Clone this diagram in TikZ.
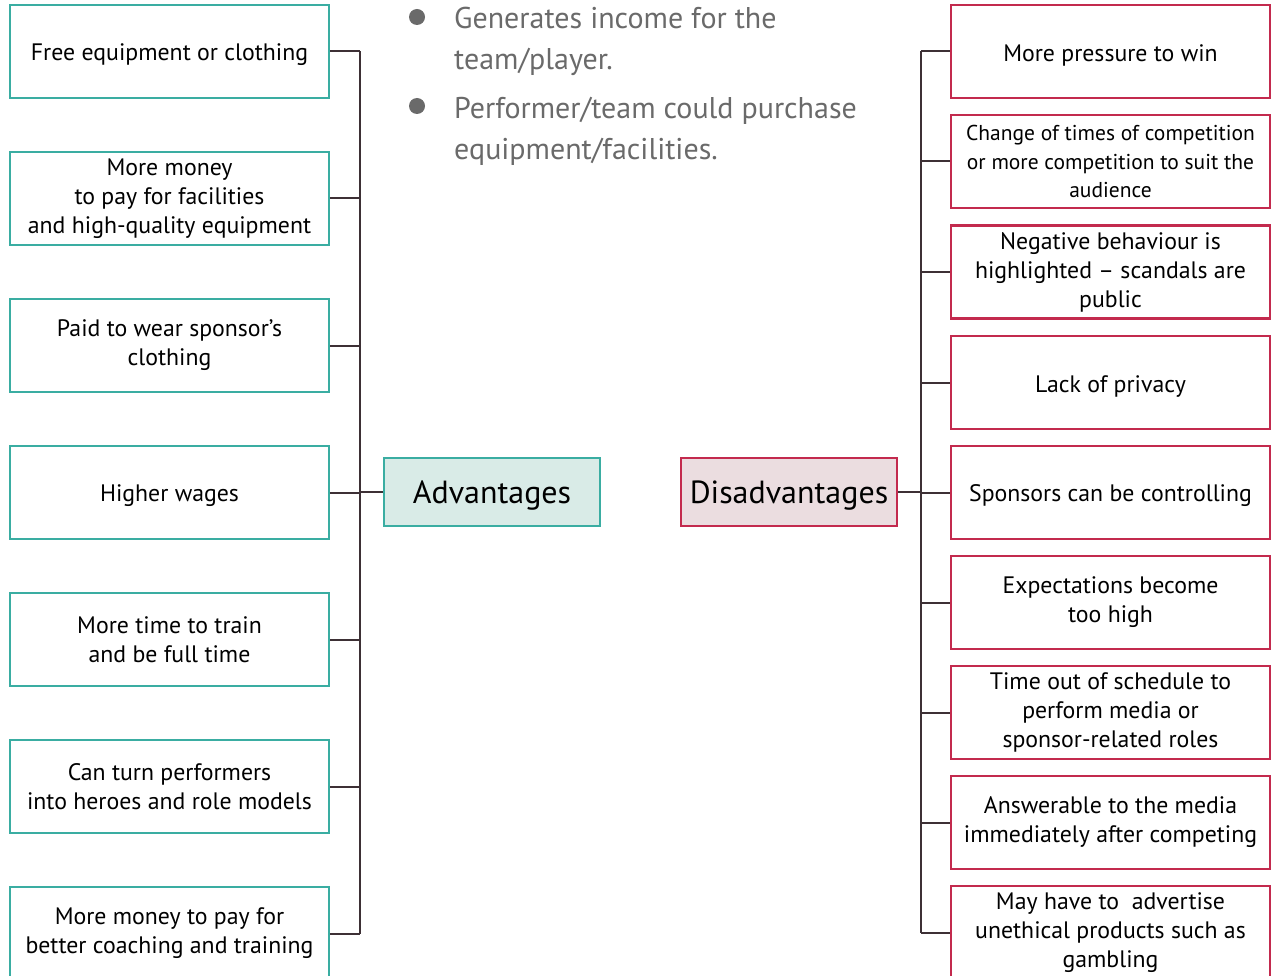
\documentclass[tikz,border=0pt]{standalone}
\usepackage{fontspec}
\setmainfont{PT Sans}
\usetikzlibrary{positioning, calc}

\definecolor{advline}{HTML}{3AADA2}
\definecolor{advfill}{HTML}{D9EBE7}
\definecolor{disline}{HTML}{C32A4E}
\definecolor{disfill}{HTML}{EBDDE0}
\definecolor{linkcol}{HTML}{3D3035}
\definecolor{notecol}{HTML}{6A6A6A}

\begin{document}
\begin{tikzpicture}[
    x = 1pt,
    y = -1pt,
    line join = miter,
    % strut at the start pushes the text a little down in its box
    advbox/.style = {draw=advline, line width=2.4pt, fill=white, minimum width=319pt,
        minimum height=93pt, align=center, inner sep=2pt,
        font=\fontsize{23.8}{29}\selectfont,
        execute at begin node={\rule{0pt}{24pt}}},
    disbox/.style = {draw=disline, line width=2.4pt, fill=white, minimum width=319pt,
        minimum height=93pt, align=center, inner sep=2pt,
        font=\fontsize{23.8}{29}\selectfont,
        execute at begin node={\rule{0pt}{24pt}}},
    rootbox/.style = {line width=2.4pt, minimum width=216pt, minimum height=68pt,
        font=\fontsize{32}{36}\selectfont,
        execute at begin node={\rule{0pt}{29pt}}},
    link/.style = {draw=linkcol, line width=2pt},
    note/.style = {text=notecol, align=left, anchor=west, inner sep=0pt,
        font=\fontsize{30}{41}\selectfont},
    dot/.style = {circle, fill=notecol, minimum size=16pt, inner sep=0pt}
]
\useasboundingbox (0,0) rectangle (1271,976);

% 1. Centre boxes
\node[rootbox, draw=advline, fill=advfill] (advroot) at (492,492) {Advantages};
\node[rootbox, draw=disline, fill=disfill] (disroot) at (789,492) {Disadvantages};

% 2. Advantages on the left
\node[advbox] (adv1) at (169.5,51.5) {Free equipment or clothing};
\node[advbox] (adv2) at (169.5,198.5) {More money\\to pay for facilities\\and high-quality equipment};
\node[advbox] (adv3) at (169.5,345.5) {Paid to wear sponsor’s\\clothing};
\node[advbox] (adv4) at (169.5,492.5) {Higher wages};
\node[advbox] (adv5) at (169.5,639.5) {More time to train\\and be full time};
\node[advbox] (adv6) at (169.5,786.5) {Can turn performers\\into heroes and role models};
\node[advbox] (adv7) at (169.5,933.5) {More money to pay for\\better coaching and training};

% 3. Disadvantages on the right
\node[disbox, font=\fontsize{21.5}{28.5}\selectfont] (dis2) at (1110.5,161.5) {Change of times of competition\\or more competition to suit the\\audience};
\node[disbox] (dis1) at (1110.5,51.5) {More pressure to win};
\node[disbox] (dis3) at (1110.5,272) {Negative behaviour is\\highlighted -- scandals are\\public};
\node[disbox] (dis4) at (1110.5,382.5) {Lack of privacy};
\node[disbox] (dis5) at (1110.5,492.5) {Sponsors can be controlling};
\node[disbox] (dis6) at (1110.5,602.5) {Expectations become\\too high};
\node[disbox] (dis7) at (1110.5,712.5) {Time out of schedule to\\perform media or\\sponsor-related roles};
\node[disbox] (dis8) at (1110.5,822.5) {Answerable to the media\\immediately after competing};
\node[disbox] (dis9) at (1110.5,932.5) {May have to~~advertise\\unethical products such as\\gambling};

% 4. Bullet notes at the top
\node[dot] (dot1) at (417,17) {};
\node[dot] (dot2) at (417,106) {};
\node[note] (gen) at (454,41) {Generates income for the\\team/player.};
\node[note] (perf) at (454,131) {Performer/team could purchase\\equipment/facilities.};

% 5. Trunk lines
\coordinate (advtrunk) at (360,0);
\coordinate (distrunk) at (921,0);

\draw[link] (adv1.east -| advtrunk) -- (adv7.east -| advtrunk);
\foreach \i in {1,...,7} {
    \draw[link] (adv\i.east) -- (adv\i.east -| advtrunk);
}
\draw[link] (advroot.west) -- (advroot.west -| advtrunk);

\draw[link] (dis1.west -| distrunk) -- (dis9.west -| distrunk);
\foreach \i in {1,...,9} {
    \draw[link] (dis\i.west) -- (dis\i.west -| distrunk);
}
\draw[link] (disroot.east) -- (disroot.east -| distrunk);

\end{tikzpicture}
\end{document}
